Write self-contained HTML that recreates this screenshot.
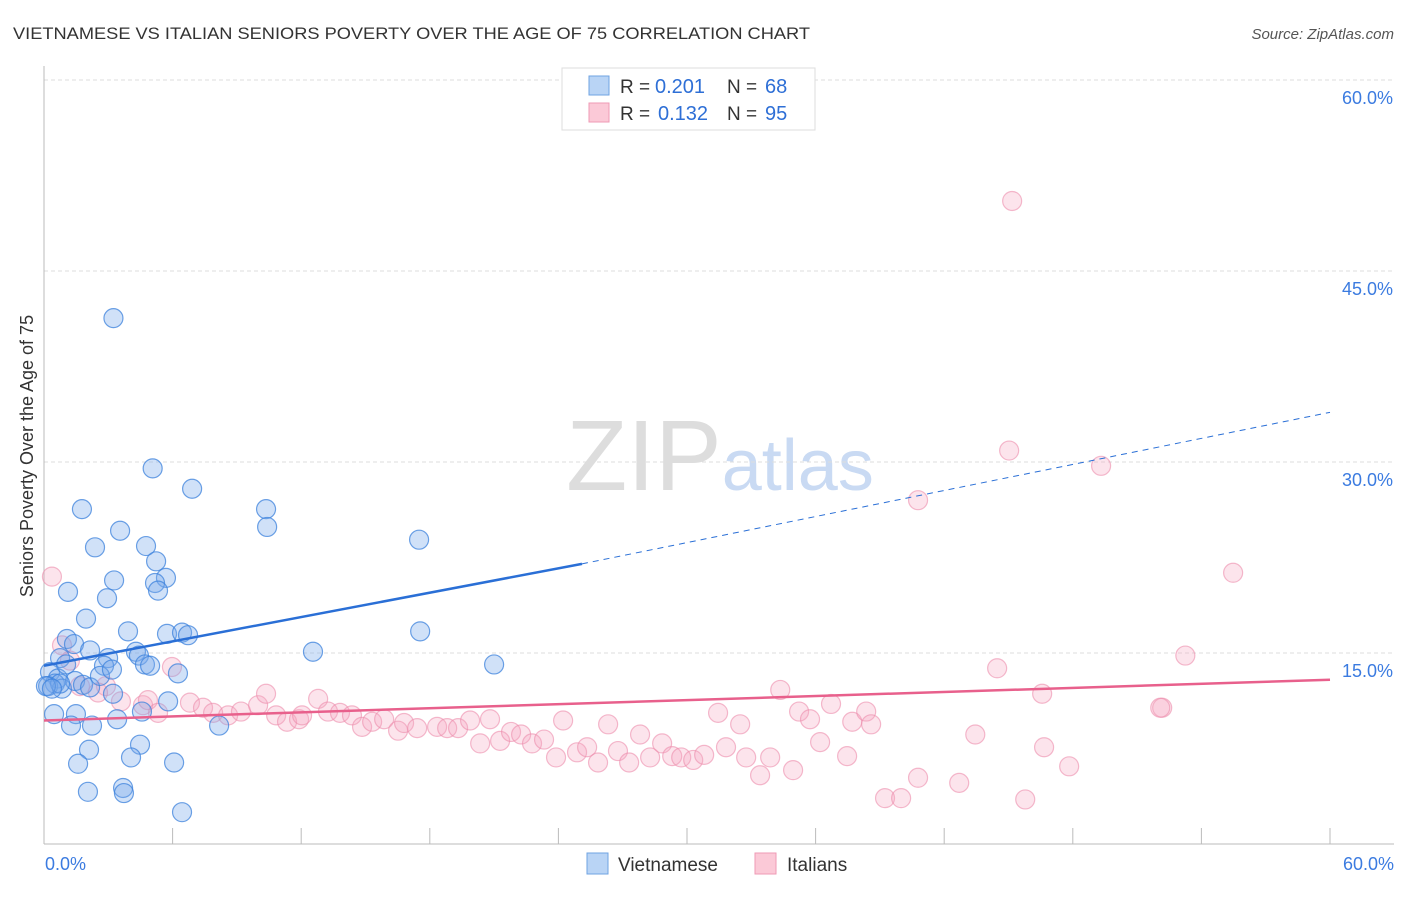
<!DOCTYPE html>
<html><head><meta charset="utf-8"><style>
body{margin:0;background:#fff;font-family:"Liberation Sans",sans-serif;}
svg text{font-family:"Liberation Sans",sans-serif;}
</style></head><body>
<svg id="chart" width="1406" height="892" xmlns="http://www.w3.org/2000/svg">
<text x="13" y="39" font-size="17" fill="#333" textLength="797" lengthAdjust="spacingAndGlyphs">VIETNAMESE VS ITALIAN SENIORS POVERTY OVER THE AGE OF 75 CORRELATION CHART</text>
<text x="1394" y="39" font-size="15" fill="#555" text-anchor="end" font-style="italic">Source: ZipAtlas.com</text>
<text x="720" y="490" font-size="100" text-anchor="middle" fill="#ddd" font-family="Liberation Serif">ZIP<tspan fill="#c9daf3" font-family="Liberation Sans" font-size="72">atlas</tspan></text>
<g id="grid"></g>
<g id="axes"></g>
<g id="marks"></g>
<text transform="translate(33,456) rotate(-90)" font-size="18" fill="#333" text-anchor="middle">Seniors Poverty Over the Age of 75</text>
<g>
<rect x="562" y="68" width="253" height="62" fill="#fff" stroke="#ddd"/>
<rect x="589" y="76" width="20" height="19" fill="#b9d4f5" stroke="#6fa3e2"/>
<text x="620" y="93" font-size="19" fill="#333">R =</text>
<text x="655" y="93" font-size="20" fill="#2e6fd6">0.201</text>
<text x="727" y="93" font-size="19" fill="#333">N =</text>
<text x="765" y="93" font-size="20" fill="#2e6fd6">68</text>
<rect x="589" y="103" width="20" height="19" fill="#fbc9d7" stroke="#ef9ab4"/>
<text x="620" y="120" font-size="19" fill="#333">R =</text>
<text x="658" y="120" font-size="20" fill="#2e6fd6">0.132</text>
<text x="727" y="120" font-size="19" fill="#333">N =</text>
<text x="765" y="120" font-size="20" fill="#2e6fd6">95</text>
</g>
<g>
<rect x="587" y="853" width="21" height="21" fill="#b9d4f5" stroke="#6fa3e2"/>
<text x="618" y="871" font-size="19" fill="#333">Vietnamese</text>
<rect x="755" y="853" width="21" height="21" fill="#fbc9d7" stroke="#ef9ab4"/>
<text x="787" y="871" font-size="19" fill="#333">Italians</text>
</g>
</svg>
<script>
const yTicks=[15,30,45,60];
const xTickVals=[0,6,12,18,24,30,36,42,48,54,60];
const blueX=[3.24,5.07,6.91,1.77,10.36,10.41,3.55,17.5,2.38,4.76,5.23,3.27,5.69,5.18,5.32,1.12,2.94,1.96,3.92,5.74,6.44,6.72,1.07,1.4,2.15,4.29,4.43,2.99,4.71,4.95,6.25,12.55,21.0,17.55,0.75,0.28,2.8,0.65,0.51,0.19,0.84,1.45,1.82,2.15,3.22,5.79,0.47,1.49,3.41,4.57,2.24,1.26,8.17,4.48,2.1,4.06,1.59,6.07,3.69,3.73,2.05,6.44,2.61,0.75,0.09,0.37,1.03,3.17];
const blueY=[41.3,29.5,27.9,26.3,26.3,24.9,24.6,23.9,23.3,23.4,22.2,20.7,20.9,20.5,19.9,19.8,19.3,17.7,16.7,16.5,16.6,16.4,16.1,15.7,15.2,15.1,14.8,14.6,14.1,14.0,13.4,15.1,14.1,16.7,14.6,13.5,14.0,13.0,12.6,12.4,12.2,12.8,12.5,12.3,11.8,11.2,10.2,10.2,9.8,10.4,9.3,9.3,9.3,7.8,7.4,6.8,6.3,6.4,4.4,4.0,4.1,2.5,13.2,12.6,12.4,12.2,14.1,13.7];
const pinkX=[45.17,45.03,49.32,40.78,55.48,0.37,0.84,1.21,53.25,44.47,5.97,2.89,1.68,2.52,3.59,4.62,4.85,5.32,6.81,7.42,7.89,8.59,9.19,9.99,10.36,10.83,11.34,11.9,12.04,12.79,13.25,13.81,14.37,14.84,15.31,15.87,16.52,16.8,17.41,18.34,18.81,19.32,19.88,20.35,20.81,21.28,21.79,22.26,22.77,23.33,23.89,24.22,24.87,25.34,25.85,26.32,26.78,27.3,27.81,28.28,28.84,29.31,29.73,30.29,30.8,31.45,31.82,32.48,32.76,33.41,33.88,34.35,34.95,35.23,35.74,36.21,36.72,37.47,37.71,38.36,38.59,39.24,39.99,40.78,42.7,43.45,45.78,46.66,46.57,47.83,52.17,52.08];
const pinkY=[50.5,30.9,29.7,27.0,21.3,21.0,15.6,14.4,14.8,13.8,13.9,12.4,12.4,11.9,11.2,10.9,11.3,10.3,11.1,10.7,10.3,10.1,10.4,10.9,11.8,10.1,9.6,9.8,10.1,11.4,10.4,10.3,10.1,9.2,9.6,9.8,8.9,9.5,9.1,9.2,9.1,9.1,9.7,7.9,9.8,8.1,8.8,8.6,7.9,8.2,6.8,9.7,7.2,7.6,6.4,9.4,7.3,6.4,8.6,6.8,7.9,6.9,6.8,6.6,7.0,10.3,7.6,9.4,6.8,5.4,6.8,12.1,5.8,10.4,9.8,8.0,11.0,6.9,9.6,10.4,9.4,3.6,3.6,5.2,4.8,8.6,3.5,7.6,11.8,6.1,10.7,10.7,12.2];
const blueTrend=[[0,14.0],[25.1,22.0],[60,33.9]];
const pinkTrend=[[0,9.7],[60,12.9]];
const X=v=>44+v*(1286/60);
const Y=v=>844-v*(764/60);
const NS="http://www.w3.org/2000/svg";
function mk(tag,attrs,parent){const e=document.createElementNS(NS,tag);for(const k in attrs)e.setAttribute(k,attrs[k]);parent.appendChild(e);return e;}
const grid=document.getElementById('grid'),axes=document.getElementById('axes'),marks=document.getElementById('marks');
yTicks.forEach(t=>{
 const l=mk('line',{x1:44,x2:1394,y1:Y(t),y2:Y(t),stroke:'#ddd','stroke-dasharray':'4,3'},grid);
 
 
 const tx=mk('text',{x:1393,y:Y(t)+24,'font-size':18,fill:'#3b7be0','text-anchor':'end'},axes);
 tx.textContent=t.toFixed(1)+'%';
 
 
});
const ax=mk('line',{x1:44,x2:1394,y1:844,y2:844,stroke:'#bbb'},axes);


const ay=mk('line',{x1:44,x2:44,y1:66,y2:844,stroke:'#bbb'},axes);


xTickVals.forEach(t=>{
 const l=mk('line',{x1:X(t),x2:X(t),y1:828,y2:844,stroke:'#bbb'},axes);
 
 
});
[[0,'start',45],[60,'end',1394]].forEach(([v,a,x])=>{
 const t=mk('text',{x:x,y:870,'font-size':18,fill:'#3b7be0','text-anchor':a},axes);
 t.textContent=v.toFixed(1)+'%';
 
 
});
function dots(xs,ys,fill,stroke,name){
 xs.forEach((v,i)=>{
  const c=mk('circle',{cx:X(v),cy:Y(ys[i]),r:9.5,fill:fill,stroke:stroke,'stroke-width':1.2},marks);
  
  
 });
}
dots(pinkX,pinkY,'rgba(244,165,192,0.3)','rgba(236,140,172,0.6)','italians-point');
dots(blueX,blueY,'rgba(120,170,235,0.35)','rgba(60,130,220,0.75)','vietnamese-point');
const b1=mk('line',{x1:X(blueTrend[0][0]),y1:Y(blueTrend[0][1]),x2:X(blueTrend[1][0]),y2:Y(blueTrend[1][1]),stroke:'#2a6fd6','stroke-width':2.5},marks);


const b2=mk('line',{x1:X(blueTrend[1][0]),y1:Y(blueTrend[1][1]),x2:X(blueTrend[2][0]),y2:Y(blueTrend[2][1]),stroke:'#2a6fd6','stroke-width':1,'stroke-dasharray':'6,5'},marks);


const p1=mk('line',{x1:X(pinkTrend[0][0]),y1:Y(pinkTrend[0][1]),x2:X(pinkTrend[1][0]),y2:Y(pinkTrend[1][1]),stroke:'#e8608c','stroke-width':2.5},marks);


</script>
</body></html>
